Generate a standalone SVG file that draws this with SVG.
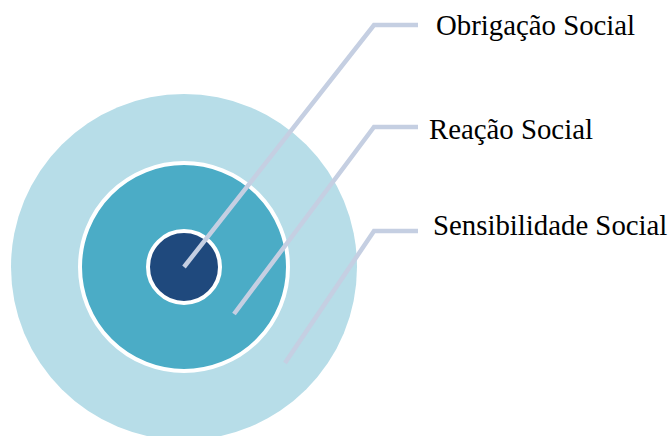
<svg xmlns="http://www.w3.org/2000/svg" width="671" height="436" viewBox="0 0 671 436">
<style>
.lbl{font-family:"Liberation Serif","Times New Roman",serif;font-size:28.8px;fill:#000}
.con{fill:none;stroke:#C5CFE2;stroke-width:4.5;stroke-linejoin:miter}
</style>
<rect width="671" height="436" fill="#fff"/>
<g id="sensibilidade">
<circle cx="184" cy="267" r="173" fill="#B7DDE8"/>
</g>
<g id="reacao">
<circle cx="184" cy="267" r="104" fill="#4BACC6" stroke="#fff" stroke-width="4"/>
</g>
<g id="obrigacao">
<circle cx="184" cy="267" r="36" fill="#1F497D" stroke="#fff" stroke-width="4"/>
</g>
<g id="connectors">
<polyline class="con" points="184,267 374,25 418,25"/>
<polyline class="con" points="234,314 374,127 418,127"/>
<polyline class="con" points="285,363 374,231 418,231"/>
</g>
<g id="labels">
<text class="lbl" x="436" y="35">Obrigação Social</text>
<text class="lbl" x="429" y="139">Reação Social</text>
<text class="lbl" x="433" y="235">Sensibilidade Social</text>
</g>
</svg>
